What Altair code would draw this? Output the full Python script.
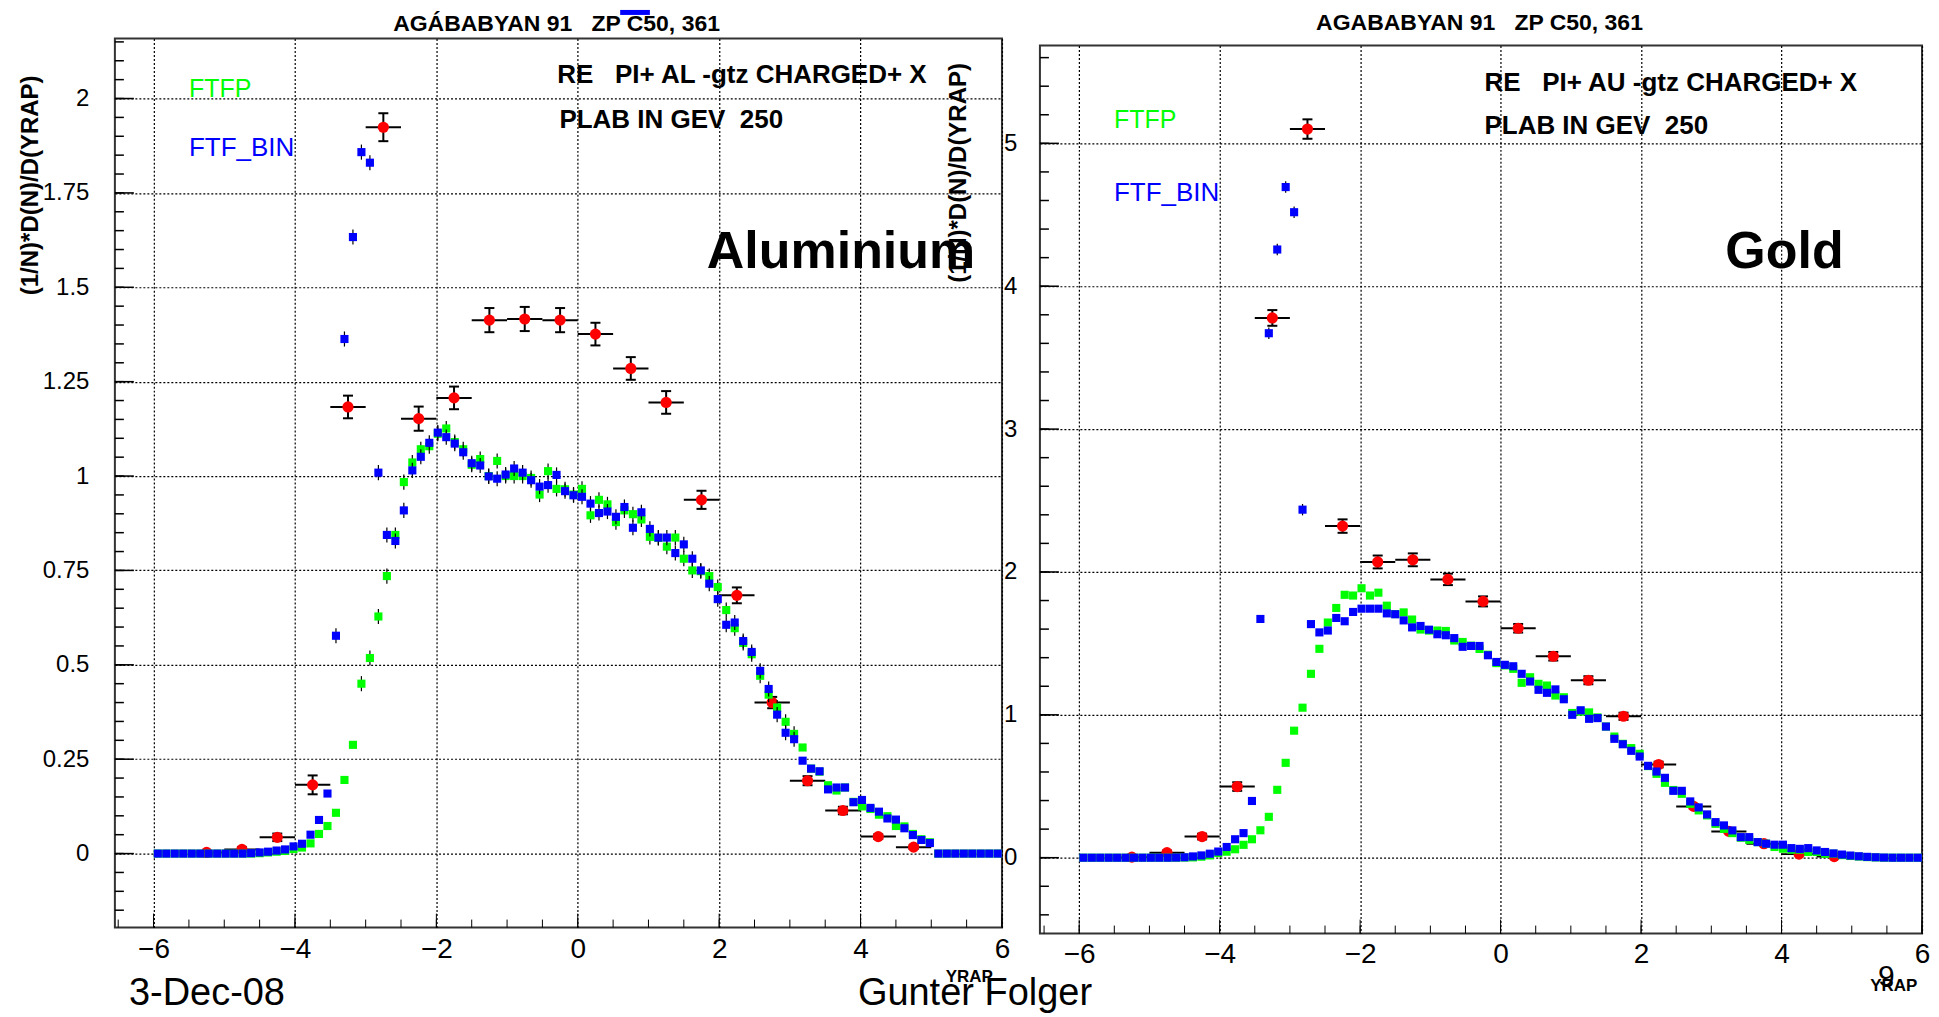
import altair as alt
import pandas as pd

FONT = "Liberation Sans"

# ---------------- data ----------------
BIN_X = [round(-5.94 + 0.12 * i, 2) for i in range(100)]
DATA_X = [-5.25, -4.75, -4.25, -3.75, -3.25, -2.75, -2.25, -1.75, -1.25, -0.75,
          -0.25, 0.25, 0.75, 1.25, 1.75, 2.25, 2.75, 3.25, 3.75, 4.25, 4.75]

AL_FTFBIN = [0, 0, 0, 0, 0, 0, 0, 0, 0, 0, 0, 0.001,
             0.003, 0.005, 0.008, 0.011, 0.019, 0.026, 0.050, 0.089, 0.159, 0.577,
             1.363, 1.633, 1.858, 1.830, 1.009, 0.844, 0.828, 0.909, 1.015, 1.051,
             1.088, 1.115, 1.103, 1.086, 1.063, 1.034, 1.028, 0.999, 0.993, 1.004,
             1.020, 1.009, 0.989, 0.972, 0.976, 1.003, 0.960, 0.949, 0.945, 0.927,
             0.902, 0.906, 0.892, 0.918, 0.863, 0.904, 0.860, 0.837, 0.837, 0.796,
             0.819, 0.781, 0.750, 0.715, 0.674, 0.606, 0.612, 0.563, 0.534, 0.484,
             0.436, 0.368, 0.320, 0.303, 0.246, 0.225, 0.218, 0.170, 0.175, 0.175,
             0.136, 0.142, 0.121, 0.111, 0.093, 0.090, 0.067, 0.049, 0.036, 0.028,
             0, 0, 0, 0, 0, 0, 0, 0]

AL_FTFP = [0, 0, 0, 0, 0, 0, 0, 0, 0, 0, 0, 0,
           0.001, 0.003, 0.005, 0.007, 0.012, 0.016, 0.027, 0.052, 0.073, 0.108,
           0.195, 0.288, 0.450, 0.518, 0.628, 0.735, 0.844, 0.984, 1.036, 1.071,
           1.079, 1.112, 1.126, 1.090, 1.071, 1.030, 1.045, 1.000, 1.040, 1.000,
           1.000, 1.000, 0.995, 0.951, 1.013, 0.966, 0.965, 0.951, 0.966, 0.896,
           0.937, 0.925, 0.878, 0.909, 0.899, 0.885, 0.839, 0.836, 0.813, 0.837,
           0.781, 0.750, 0.748, 0.735, 0.706, 0.645, 0.597, 0.558, 0.528, 0.471,
           0.421, 0.387, 0.349, 0.317, 0.281, 0.225, 0.217, 0.181, 0.167, 0.175,
           0.137, 0.125, 0.118, 0.103, 0.099, 0.073, 0.072, 0.052, 0.038, 0.030,
           0, 0, 0, 0, 0, 0, 0, 0]

AL_DATA = [0.003, 0.011, 0.043, 0.182, 1.183, 1.924, 1.152, 1.207, 1.413, 1.416,
           1.413, 1.376, 1.285, 1.195, 0.937, 0.684, 0.400, 0.193, 0.114, 0.045, 0.017]
AL_DATA_ERR = [0.004, 0.006, 0.010, 0.025, 0.030, 0.037, 0.032, 0.030, 0.032, 0.032,
               0.032, 0.030, 0.030, 0.030, 0.024, 0.021, 0.015, 0.012, 0.010, 0.006, 0.005]

AU_FTFBIN = [0, 0, 0, 0, 0, 0, 0, 0, 0, 0, 0, 0.001,
             0.003, 0.009, 0.016, 0.028, 0.043, 0.075, 0.129, 0.172, 0.397, 1.671,
             3.671, 4.257, 4.694, 4.518, 2.436, 1.635, 1.577, 1.590, 1.678, 1.655,
             1.720, 1.743, 1.743, 1.743, 1.710, 1.704, 1.661, 1.612, 1.622, 1.596,
             1.564, 1.557, 1.537, 1.476, 1.482, 1.482, 1.417, 1.370, 1.350, 1.340,
             1.287, 1.233, 1.175, 1.154, 1.178, 1.109, 1.000, 1.032, 0.972, 0.977,
             0.918, 0.832, 0.794, 0.748, 0.708, 0.643, 0.603, 0.559, 0.468, 0.468,
             0.394, 0.352, 0.303, 0.249, 0.226, 0.191, 0.144, 0.144, 0.109, 0.098,
             0.091, 0.091, 0.067, 0.062, 0.067, 0.051, 0.040, 0.030, 0.022, 0.015,
             0.010, 0.006, 0.003, 0.001, 0, 0, 0, 0]

AU_FTFP = [0, 0, 0, 0, 0, 0, 0, 0, 0, 0, 0, 0,
           0.001, 0.002, 0.007, 0.016, 0.033, 0.042, 0.059, 0.090, 0.129, 0.192,
           0.286, 0.475, 0.664, 0.889, 1.050, 1.287, 1.462, 1.646, 1.748, 1.840,
           1.835, 1.886, 1.835, 1.855, 1.764, 1.705, 1.717, 1.667, 1.597, 1.590,
           1.590, 1.587, 1.520, 1.510, 1.484, 1.461, 1.421, 1.362, 1.346, 1.322,
           1.224, 1.263, 1.217, 1.205, 1.135, 1.123, 1.013, 1.022, 1.017, 0.982,
           0.918, 0.848, 0.797, 0.767, 0.727, 0.641, 0.587, 0.524, 0.474, 0.447,
           0.377, 0.331, 0.296, 0.237, 0.202, 0.172, 0.140, 0.125, 0.109, 0.098,
           0.075, 0.063, 0.056, 0.056, 0.040, 0.040, 0.028, 0.028, 0.018, 0.012,
           0.008, 0.004, 0.002, 0, 0, 0, 0, 0]

AU_DATA = [0.004, 0.035, 0.148, 0.498, 3.778, 5.100, 2.321, 2.070, 2.085, 1.948,
           1.794, 1.606, 1.410, 1.242, 0.990, 0.652, 0.359, 0.184, 0.098, 0.025, 0.008]
AU_DATA_ERR = [0.010, 0.015, 0.020, 0.030, 0.055, 0.068, 0.047, 0.045, 0.045, 0.040,
               0.035, 0.030, 0.030, 0.028, 0.025, 0.020, 0.015, 0.012, 0.010, 0.008, 0.005]

X_LABELS = [-6, -4, -2, 0, 2, 4, 6]
AL_Y_LABELS = [0, 0.25, 0.5, 0.75, 1, 1.25, 1.5, 1.75, 2]
AU_Y_LABELS = [0, 1, 2, 3, 4, 5]

TITLE = "AG\u00c1BABYAN 91\u00a0\u00a0\u00a0ZP C50, 361"
TITLE_R = "AGABABYAN 91\u00a0\u00a0\u00a0ZP C50, 361"
YTITLE = "(1/N)*D(N)/D(YRAP)"

GREEN = "#00ff00"
BLUE = "#0000ff"
RED = "#ff0000"


def panel(cfg):
    W, H = cfg["w"], cfg["h"]
    xs = alt.Scale(domain=cfg["xdom"], nice=False, zero=False)
    ys = alt.Scale(domain=cfg["ydom"], nice=False, zero=False)
    xaxis = alt.Axis(
        values=X_LABELS, grid=True, gridDash=[2, 2], gridColor="black", gridWidth=1.2,
        gridOpacity=1, ticks=False, domain=False, title=None, labelFont=FONT,
        labelFontSize=28, labelColor="black", labelPadding=cfg["xlabpad"],
        labelFlush=False, labelOverlap=False)
    yaxis = alt.Axis(
        values=cfg["ylabels"], grid=True, gridDash=[2, 2], gridColor="black", gridWidth=1.2,
        gridOpacity=1, ticks=False, domain=False, title=None, labelFont=FONT,
        labelFontSize=24, labelColor="black", labelPadding=cfg["ylabpad"],
        labelFlush=False, labelOverlap=False, format=".2~f")

    def X(f):
        return alt.X(f, type="quantitative", scale=xs, axis=xaxis)

    def Y(f):
        return alt.Y(f, type="quantitative", scale=ys, axis=yaxis)

    # inward tick marks
    ymaj = alt.Chart(pd.DataFrame({"v": cfg["ymajor"]})).mark_rule(color="black", strokeWidth=1.5).encode(
        y=Y("v"), x=alt.value(0), x2=alt.value(19))
    ymin = alt.Chart(pd.DataFrame({"v": cfg["yminor"]})).mark_rule(color="black", strokeWidth=1.5).encode(
        y=Y("v"), x=alt.value(0), x2=alt.value(9))
    xmaj = alt.Chart(pd.DataFrame({"v": cfg["xmajor"]})).mark_rule(color="black", strokeWidth=1).encode(
        x=X("v"), y=alt.value(H), y2=alt.value(H - 14))
    xmin = alt.Chart(pd.DataFrame({"v": cfg["xminor"]})).mark_rule(color="black", strokeWidth=1).encode(
        x=X("v"), y=alt.value(H), y2=alt.value(H - 8))

    # experimental points
    red = pd.DataFrame({"x": DATA_X, "y": cfg["data"], "e": cfg["err"]})
    red["xlo"] = red["x"] - 0.25
    red["xhi"] = red["x"] + 0.25
    red["lo"] = red["y"] - red["e"]
    red["hi"] = red["y"] + red["e"]
    rbase = alt.Chart(red)
    r_h = rbase.mark_rule(color="black", strokeWidth=2).encode(x=X("xlo"), x2="xhi", y=Y("y"))
    r_v = rbase.mark_rule(color="black", strokeWidth=2).encode(x=X("x"), y=Y("lo"), y2="hi")
    r_c1 = rbase.mark_rule(color="black", strokeWidth=2, xOffset=-5, x2Offset=5).encode(
        x=X("x"), x2="x", y=Y("lo"))
    r_c2 = rbase.mark_rule(color="black", strokeWidth=2, xOffset=-5, x2Offset=5).encode(
        x=X("x"), x2="x", y=Y("hi"))
    r_pt = rbase.mark_point(shape="circle", filled=True, size=125, color=RED, opacity=1).encode(
        x=X("x"), y=Y("y"))

    layers = [r_h, r_v, r_c1, r_c2, r_pt]

    for vals, col in ((cfg["ftfp"], GREEN), (cfg["ftfbin"], BLUE)):
        m = pd.DataFrame({"x": BIN_X, "y": vals})
        m["lo"] = m["y"] - cfg["merr"]
        m["hi"] = m["y"] + cfg["merr"]
        mb = alt.Chart(m)
        layers.append(mb.mark_rule(color="black", strokeWidth=1.2).encode(
            x=X("x"), y=Y("lo"), y2="hi").transform_filter(f"datum.y > {cfg['mthr']}"))
        layers.append(mb.mark_square(size=66, color=col, opacity=1).encode(x=X("x"), y=Y("y")))

    layers += [ymaj, ymin, xmaj, xmin]

    # texts
    def txt(t, x, y, size, color="black", weight="normal", align="left", baseline="middle",
            angle=0, font=FONT):
        kw = dict(fontSize=size, color=color, fontWeight=weight, align=align,
                  baseline=baseline, font=font)
        if angle:
            kw["angle"] = angle
        return alt.Chart(pd.DataFrame({"x": [x], "y": [y], "t": [t]})).mark_text(**kw).encode(
            x=X("x"), y=Y("y"), text="t:N")

    for spec in cfg["texts"]:
        layers.append(txt(**spec))

    if cfg.get("bar"):
        b = cfg["bar"]
        layers.append(alt.Chart(pd.DataFrame({"a": [b[0]], "b": [b[1]], "y": [b[2]]})).mark_rule(
            color=BLUE, strokeWidth=5).encode(x=X("a"), x2="b", y=Y("y")))

    return alt.layer(*layers).properties(
        width=W, height=H,
        view=alt.ViewBackground(stroke="#333333", strokeWidth=2))


al_cfg = dict(
    w=888, h=890, xdom=[-6.547, 6.0], ydom=[-0.196, 2.159],
    ylabels=AL_Y_LABELS, ymajor=AL_Y_LABELS,
    yminor=[round(-0.15 + 0.05 * i, 2) for i in range(47)],
    xmajor=X_LABELS, xminor=[-6.5 + 0.5 * i for i in range(26)],
    xlabpad=8, ylabpad=26,
    data=AL_DATA, err=AL_DATA_ERR, ftfp=AL_FTFP, ftfbin=AL_FTFBIN, merr=0.02, mthr=0.3,
    bar=(0.6, 1.02, 2.228),
    texts=[
        dict(t=TITLE, x=-0.30, y=2.198, size=23, weight="bold", align="center"),
        dict(t="RE\u00a0\u00a0\u00a0PI+ AL -gtz CHARGED+ X", x=-0.29, y=2.061, size=26, weight="bold"),
        dict(t="PLAB IN GEV\u00a0\u00a0250", x=-0.26, y=1.942, size=26, weight="bold"),
        dict(t="FTFP", x=-5.50, y=2.024, size=25, color=GREEN),
        dict(t="FTF_BIN", x=-5.50, y=1.868, size=26, color=BLUE),
        dict(t="Aluminium", x=1.826, y=1.55, size=52, weight="bold", baseline="alphabetic"),
        dict(t=YTITLE, x=-7.733, y=2.061, size=24, weight="bold", align="right", angle=270),
        dict(t="YRAP", x=5.205, y=-0.328, size=17, weight="bold"),
        dict(t="3-Dec-08", x=-6.349, y=-0.40, size=38, baseline="alphabetic"),
        dict(t="Gunter Folger", x=3.962, y=-0.40, size=38, baseline="alphabetic"),
    ],
)

au_cfg = dict(
    w=883, h=889, xdom=[-6.559, 6.0], ydom=[-0.531, 5.685],
    ylabels=AU_Y_LABELS, ymajor=AU_Y_LABELS,
    yminor=[round(-0.4 + 0.2 * i, 2) for i in range(31)],
    xmajor=X_LABELS, xminor=[-6.5 + 0.5 * i for i in range(26)],
    xlabpad=7, ylabpad=23,
    data=AU_DATA, err=AU_DATA_ERR, ftfp=AU_FTFP, ftfbin=AU_FTFBIN, merr=0.04, mthr=2.0,
    texts=[
        dict(t=TITLE_R, x=-0.30, y=5.841, size=23, weight="bold", align="center"),
        dict(t="RE\u00a0\u00a0\u00a0PI+ AU -gtz CHARGED+ X", x=-0.23, y=5.42, size=26, weight="bold"),
        dict(t="PLAB IN GEV\u00a0\u00a0250", x=-0.23, y=5.12, size=26, weight="bold"),
        dict(t="FTFP", x=-5.505, y=5.163, size=25, color=GREEN),
        dict(t="FTF_BIN", x=-5.505, y=4.653, size=26, color=BLUE),
        dict(t="Gold", x=3.2, y=4.127, size=52, weight="bold", baseline="alphabetic"),
        dict(t=YTITLE, x=-7.711, y=5.562, size=24, weight="bold", align="right", angle=270),
        dict(t="9", x=5.375, y=-0.837, size=30),
        dict(t="YRAP", x=5.262, y=-0.90, size=17, weight="bold"),
    ],
)

left = panel(al_cfg)
right = panel(au_cfg)

spacer = alt.Chart(pd.DataFrame({"a": [0]})).mark_point(opacity=0).encode(
    x=alt.X("a:Q", axis=None), y=alt.Y("a:Q", axis=None)
).properties(width=883, height=7, view=alt.ViewBackground(stroke="transparent"))

chart = alt.hconcat(
    left,
    alt.vconcat(spacer, right, spacing=0, bounds="flush"),
    spacing=38, bounds="flush",
).properties(
    padding={"left": 10, "top": 0, "right": 0, "bottom": 0}
).configure(background="white")

chart.save("out.html", embed_options={"renderer": "svg", "actions": False})
